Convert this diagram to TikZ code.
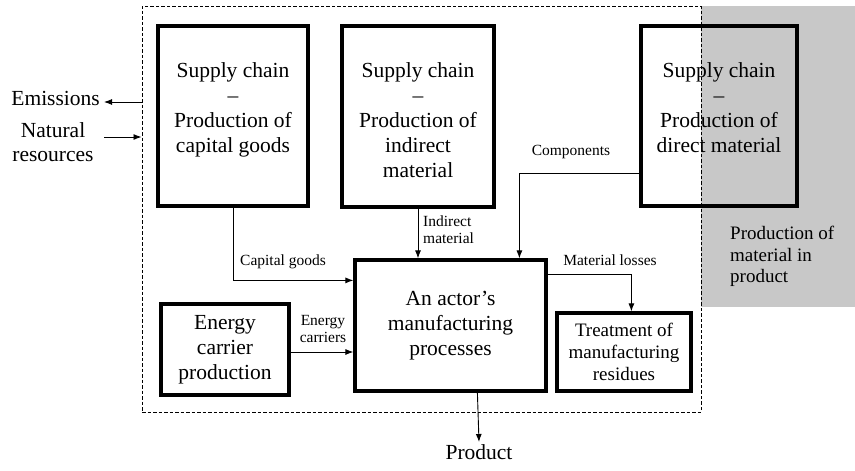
\documentclass[tikz,border=0pt]{standalone}
\usepackage{fontspec}
\setmainfont{Liberation Serif}
\usetikzlibrary{arrows.meta,calc}
\definecolor{greyfill}{HTML}{C8C8C8}
\begin{document}
\begin{tikzpicture}[x=1pt,y=-1pt,
  box/.style={draw,line width=3.2pt,inner sep=0pt},
  big/.style={font=\fontsize{21.5}{25}\selectfont,align=center,inner sep=0pt},
  small/.style={font=\fontsize{15.5}{17}\selectfont,align=center,inner sep=0pt},
  conn/.style={line width=0.9pt,-{Latex[length=8pt,width=6pt]}},
  framebox/.style={draw,line width=1pt,dash pattern=on 3.5pt off 2pt,inner sep=0pt},
]
\useasboundingbox (0,0) rectangle (855,471);

% grey area
\node[fill=greyfill,inner sep=0pt,minimum width=154pt,minimum height=301pt] (grey) at (778,156.5) {};
\node[font=\fontsize{19}{21.5}\selectfont,align=left,inner sep=0pt,anchor=north west] (greyt) at (730,226) {Production of\\material in\\product};

% dashed system boundary
\node[framebox,minimum width=559pt,minimum height=406pt] (frame) at (421.5,209) {};

% supply chain boxes
\node[box,minimum width=150pt,minimum height=180pt] (b1) at (233,116) {};
\node[big,anchor=north] (b1t) at (233,62) {Supply chain\\–\\Production of\\capital goods};
\node[box,minimum width=152pt,minimum height=181pt] (b2) at (418,116.5) {};
\node[big,anchor=north] (b2t) at (418,62) {Supply chain\\–\\Production of\\indirect\\material};
\node[box,minimum width=156pt,minimum height=180pt] (b3) at (719,116) {};
\node[big,anchor=north] (b3t) at (719,62) {Supply chain\\–\\Production of\\direct material};

% main and other boxes
\node[box,big,minimum width=191pt,minimum height=131pt] (main) at (450.5,325.5) {An actor’s\\manufacturing\\processes};
\node[box,big,minimum width=128pt,minimum height=91pt] (en) at (225,349.5) {Energy\\carrier\\production};
\node[box,font=\fontsize{19}{22}\selectfont,align=center,inner sep=0pt,minimum width=134pt,minimum height=78pt] (tr) at (624,352) {Treatment of\\manufacturing\\residues};

% outside texts
\node[big,anchor=east] (em) at (100,98) {Emissions};
\node[font=\fontsize{21.5}{24}\selectfont,align=center,inner sep=0pt] (nr) at (53,142) {Natural\\resources};
\node[big,anchor=north,inner sep=2pt] (prod) at (479,442) {Product};
\coordinate (emtip) at (104,102);
\coordinate (nrstart) at (104,137);

% connector labels
\node[small,anchor=west] (capl) at (240,262) {Capital goods};
\node[small,align=left,anchor=north west] (indl) at (423,216) {Indirect\\material};
\node[small] (compl) at (571,152) {Components};
\node[small] (encl) at (323,329) {Energy\\carriers};
\node[small] (mll) at (610,260) {Material losses};

% connectors
\draw[conn] (frame.west |- emtip) -- (emtip);
\draw[conn] (nrstart) -- (frame.west |- nrstart);
\draw[conn] (b1.south) |- ($(main.north west)+(0,22)$);
\draw[conn] (b2.south) -- (b2.south |- main.north);
\draw[conn] ($(b3.south west)+(0,-34)$) -| ($(main.north west)+(166,0)$);
\draw[conn] ($(en.east)+(0,2.5)$) -- ($(en.east -| main.west)+(0,2.5)$);
\draw[conn] ($(main.north east)+(0,16)$) -| ($(tr.north west)+(76,0)$);
\draw[conn] ($(main.south west)+(124,0)$) -- (prod.north);
\end{tikzpicture}
\end{document}
